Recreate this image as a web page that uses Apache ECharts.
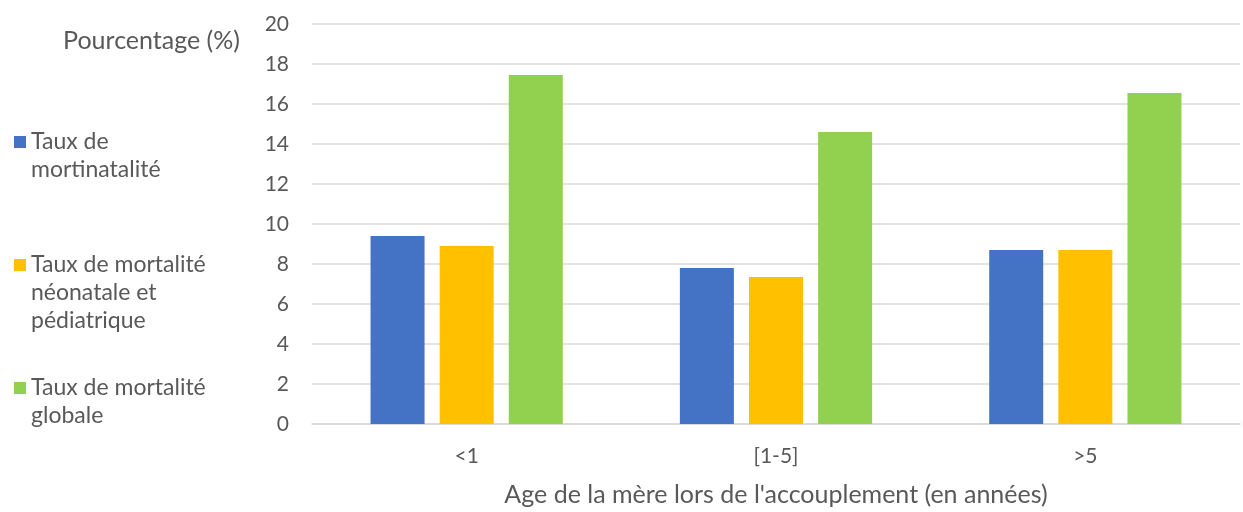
<!DOCTYPE html>
<html>
<head>
<meta charset="utf-8">
<script src="https://cdn.jsdelivr.net/npm/echarts@6/dist/echarts.min.js"></script>
<style>html,body{margin:0;padding:0;background:#fff}#c{width:1243px;height:512px}</style>
</head>
<body>
<div id="c"></div>
<script>
const categories = ['<1', '[1-5]', '>5'];
const mortinatalite = [9.4, 7.8, 8.7];
const mortaliteNeonatale = [8.9, 7.35, 8.7];
const mortaliteGlobale = [17.45, 14.6, 16.55];
const seriesNames = ['Taux de mortinatalité', 'Taux de mortalité néonatale et pédiatrique', 'Taux de mortalité globale'];
const legendLabels = [['Taux de', 'mortinatalité'], ['Taux de mortalité', 'néonatale et', 'pédiatrique'], ['Taux de mortalité', 'globale']];
const yTicks = [0, 2, 4, 6, 8, 10, 12, 14, 16, 18, 20];

const FONT = 'Lato';
const TXT = '#595959';
const LH = 28;
const chart = echarts.init(document.getElementById('c'));
chart.setOption({
  animation: false,
  color: ['#4472C4', '#FFC000', '#92D050'],
  textStyle: { fontFamily: FONT },
  grid: { left: 312, right: 3, top: 24, bottom: 84, containLabel: false },
  legend: {
    orient: 'vertical',
    left: 14,
    top: 100,
    padding: 0,
    itemGap: 11,
    itemWidth: 12,
    itemHeight: 12,
    icon: 'rect',
    data: seriesNames,
    formatter: function (name) {
      const lines = legendLabels[seriesNames.indexOf(name)];
      // leading blank lines keep the first line level with the marker
      return '\n'.repeat(lines.length - 1) + lines.join('\n');
    },
    textStyle: { color: TXT, fontSize: 23, lineHeight: LH, fontFamily: FONT }
  },
  xAxis: {
    type: 'category',
    data: categories,
    axisTick: { show: false },
    axisLine: { show: true, lineStyle: { color: '#d9d9d9', width: 1.5 } },
    axisLabel: { color: TXT, fontSize: 21, margin: 22, fontFamily: FONT },
    name: "Age de la mère lors de l'accouplement (en années)",
    nameLocation: 'middle',
    nameGap: 58,
    nameTextStyle: { color: TXT, fontSize: 25, fontFamily: FONT }
  },
  yAxis: {
    type: 'value',
    min: 0, max: 20, interval: 2,
    axisLine: { show: false },
    axisTick: { show: false },
    splitLine: { lineStyle: { color: '#d9d9d9', width: 1.5 } },
    axisLabel: { color: TXT, fontSize: 21, margin: 23, fontFamily: FONT,
      formatter: v => yTicks.includes(v) ? String(v) : '' },
    name: 'Pourcentage (%)',
    nameLocation: 'end',
    nameGap: -17,
    nameTextStyle: { color: TXT, fontSize: 25, fontFamily: FONT, align: 'right', verticalAlign: 'middle', padding: [0, 72, 0, 0] }
  },
  series: [
    { name: seriesNames[0], type: 'bar', data: mortinatalite, barWidth: 54, barGap: '28%' },
    { name: seriesNames[1], type: 'bar', data: mortaliteNeonatale, barWidth: 54, barGap: '28%' },
    { name: seriesNames[2], type: 'bar', data: mortaliteGlobale, barWidth: 54, barGap: '28%' }
  ]
});
</script>
</body>
</html>
